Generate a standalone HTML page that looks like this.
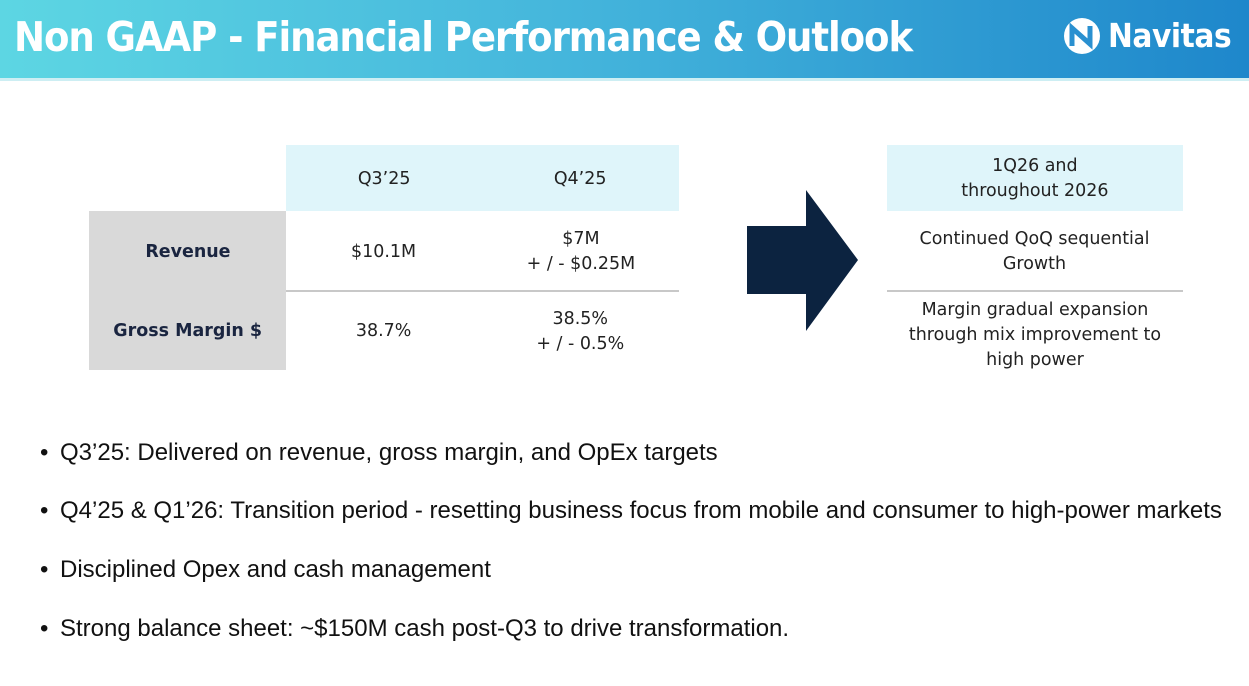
<!DOCTYPE html>
<html><head><meta charset="utf-8"><style>
body{margin:0;width:1249px;height:686px;background:#fff;position:relative;overflow:hidden;font-family:"Liberation Sans",sans-serif}
.hdr{position:absolute;left:0;top:0;width:1249px;height:78px;background:linear-gradient(90deg,#5dd6e3,#45b6dc 45%,#1e87cb)}
.line{position:absolute;left:0;top:78px;width:1249px;height:3px;background:#cdeef3}
.t{position:absolute;left:14px;top:13px;color:#fff;font-size:41px;font-weight:bold;font-family:"DejaVu Sans","Liberation Sans",sans-serif;letter-spacing:-1.2px;transform:scaleX(0.905);transform-origin:left}
.logo{position:absolute;top:16px;color:#fff;font-size:33px;font-weight:bold;font-family:"DejaVu Sans",sans-serif;letter-spacing:-0.5px;transform:scaleX(0.9);transform-origin:left}
.c{position:absolute;display:flex;align-items:center;justify-content:center;text-align:center;color:#222;font-size:18px;line-height:25px;font-family:"DejaVu Sans",sans-serif}
.c span{display:inline-block;transform:scaleX(0.97)}
.b{font-weight:bold;color:#1a2540}
.bul{position:absolute;left:60px;font-size:24px;color:#111;white-space:nowrap}
.bul:before{content:"•";position:absolute;left:-20px}
</style></head><body>
<div class="hdr"></div><div class="line"></div>
<div class="t">Non GAAP - Financial Performance &amp; Outlook</div>
<svg style="position:absolute;left:1063px;top:17px" width="38" height="38" viewBox="0 0 38 38"><circle cx="19" cy="19" r="18" fill="#fff"/><path d="M9 29 L9 11 L27 27 L27 9" stroke="#2a90d0" stroke-width="5" fill="none"/></svg>
<div class="logo" style="left:1108px">Navitas</div>

<div style="position:absolute;left:286px;top:145px;width:393px;height:66px;background:#dff5fa"></div>
<div style="position:absolute;left:89px;top:211px;width:197px;height:159px;background:#d9d9d9"></div>
<div style="position:absolute;left:286px;top:290px;width:393px;height:2px;background:#c8c8c8"></div>
<div class="c" style="left:286px;top:145px;width:196px;height:66px"><span>Q3’25</span></div>
<div class="c" style="left:482px;top:145px;width:197px;height:66px"><span>Q4’25</span></div>
<div class="c b" style="left:89px;top:211px;width:197px;height:80px"><span>Revenue</span></div>
<div class="c b" style="left:89px;top:291px;width:197px;height:79px"><span>Gross Margin $</span></div>
<div class="c" style="left:286px;top:211px;width:196px;height:80px"><span>$10.1M</span></div>
<div class="c" style="left:482px;top:211px;width:197px;height:80px"><span>$7M<br>+ / - $0.25M</span></div>
<div class="c" style="left:286px;top:291px;width:196px;height:79px"><span>38.7%</span></div>
<div class="c" style="left:482px;top:291px;width:197px;height:79px"><span>38.5%<br>+ / - 0.5%</span></div>

<svg style="position:absolute;left:745px;top:188px" width="116" height="145"><polygon points="2,38 61,38 61,2 113,72 61,143 61,106 2,106" fill="#0c2340"/></svg>

<div style="position:absolute;left:887px;top:145px;width:296px;height:66px;background:#dff5fa"></div>
<div style="position:absolute;left:887px;top:290px;width:296px;height:2px;background:#c8c8c8"></div>
<div class="c" style="left:887px;top:145px;width:296px;height:66px"><span>1Q26 and<br>throughout 2026</span></div>
<div class="c" style="left:887px;top:211px;width:296px;height:80px"><span>Continued QoQ sequential<br>Growth</span></div>
<div class="c" style="left:880px;top:291px;width:310px;height:88px;align-items:flex-start;padding-top:6px;box-sizing:border-box"><span>Margin gradual expansion<br>through mix improvement to<br>high power</span></div>

<div class="bul" style="top:439px">Q3’25: Delivered on revenue, gross margin, and OpEx targets</div>
<div class="bul" style="top:497px">Q4’25 &amp; Q1’26: Transition period - resetting business focus from mobile and consumer to high-power markets</div>
<div class="bul" style="top:556px">Disciplined Opex and cash management</div>
<div class="bul" style="top:615px">Strong balance sheet: ~$150M cash post-Q3 to drive transformation.</div>
</body></html>
